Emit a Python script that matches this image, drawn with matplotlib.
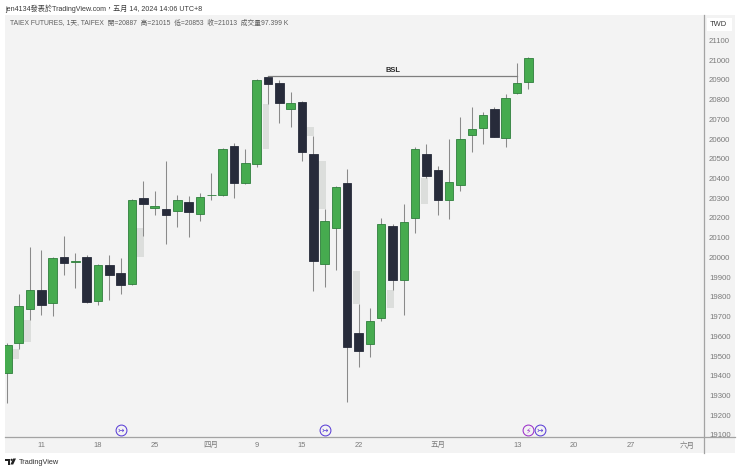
import matplotlib
matplotlib.use("Agg")
import matplotlib.pyplot as plt
from matplotlib.patches import Circle, Polygon, Rectangle

plt.rcParams["font.family"] = ["Liberation Sans", "Noto Sans CJK TC", "DejaVu Sans"]

COLORS = {
    "bg": "#F3F3F3",
    "up": "#46AB4F",
    "up_edge": "#2F7F3C",
    "down": "#272B3A",
    "wick": "#8A8A8A",
    "ghost": "#DCDEDC",
    "line": "#A3A3A3",
    "text": "#7A7A7A",
    "dark_text": "#3A3A3A",
}

# daily candles, oldest first
opens = [19416, 19566, 19739, 19835, 19768, 20001, 19978, 20004, 19779, 19960, 19920, 19865,
         20303, 20249, 20247, 20234, 20283, 20222, 20315, 20318, 20567, 20376, 20475, 20913,
         20886, 20754, 20787, 20526, 19965, 20148, 20379, 19616, 19560, 19692, 20160, 19884,
         20202, 20526, 20443, 20291, 20366, 20622, 20656, 20751, 20607, 20834, 20887]
highs = [19568, 19813, 20055, 20038, 20003, 20109, 20021, 20012, 19968, 20011, 19999, 20296,
         20388, 20335, 20488, 20315, 20312, 20325, 20430, 20555, 20582, 20550, 20905, 20920,
         20900, 20837, 20795, 20616, 20244, 20362, 20449, 19766, 19744, 20202, 20168, 20270,
         20560, 20577, 20465, 20599, 20714, 20761, 20736, 20761, 20827, 20984, 21015]
lows = [19264, 19534, 19683, 19710, 19703, 19913, 19847, 19771, 19757, 19786, 19816, 19860,
        20109, 20214, 20068, 20156, 20104, 20185, 20290, 20313, 20303, 20374, 20459, 20778,
        20680, 20660, 20488, 19828, 19852, 19935, 19269, 19446, 19494, 19679, 19835, 19710,
        20123, 20403, 20217, 20195, 20335, 20536, 20577, 20609, 20562, 20827, 20853]
closes = [19555, 19754, 19837, 19761, 19999, 19973, 19982, 19776, 19963, 19913, 19862, 20291,
          20271, 20259, 20215, 20290, 20231, 20308, 20318, 20550, 20378, 20477, 20901, 20879,
          20782, 20783, 20536, 19982, 20185, 20357, 19548, 19524, 19676, 20170, 19886, 20178,
          20551, 20415, 20291, 20381, 20601, 20650, 20724, 20612, 20808, 20883, 21013]

# pale boxes that sit just right of some candles
ghost_lefts = [0.44, 1.47, 11.42, 22.54, 26.42, 27.45, 30.48, 33.54, 36.48]
ghost_rights = [1.03, 2.06, 12.06, 23.07, 27.07, 28.10, 31.13, 34.13, 37.13]
ghost_tops = [19534, 19683, 20148, 20778, 20660, 20488, 19931, 19835, 20403]
ghost_bottoms = [19484, 19570, 20002, 20550, 20616, 20244, 19766, 19745, 20271]

bsl_start, bsl_end, bsl_price = 23, 45, 20920

price_ticks = list(range(19100, 21200, 100))
date_ticks = [3, 8, 13, 18, 22, 26, 31, 38, 45, 50, 55, 60]
date_labels = ["11", "18", "25", "四月", "9", "15", "22", "五月", "13", "20", "27", "六月"]

# event icons along the bottom of the pane
event_bars = [10, 28, 46, 47]
event_glyphs = ["↣", "↣", "⚡", "↣"]
event_colors = ["#5B3FD6", "#5B3FD6", "#9C2FC9", "#5B3FD6"]

W, H = 740, 472
PANE = (5.3, 15.0, 704.3, 437.3)  # left, top, right, bottom in pixels

fig = plt.figure(figsize=(W / 100, H / 100), dpi=100, facecolor="white")

# chrome layer, in pixels
chrome = fig.add_axes([0, 0, 1, 1], zorder=0)
chrome.set_xlim(0, W)
chrome.set_ylim(H, 0)
chrome.axis("off")
chrome.add_patch(Rectangle((5.3, 15), 730, 437.5, color=COLORS["bg"], lw=0))

left, top, right, bottom = PANE
ax = fig.add_axes([left / W, 1 - bottom / H, (right - left) / W, (bottom - top) / H], zorder=1)
ax.set_facecolor("none")
ax.set_xlim(-0.176, 61.52)
ax.set_ylim(19088, 21229)
for side in ["top", "left", "right", "bottom"]:
    ax.spines[side].set_visible(False)

for gl, gr, gt, gb in zip(ghost_lefts, ghost_rights, ghost_tops, ghost_bottoms):
    ax.add_patch(Rectangle((gl, gb), gr - gl, gt - gb, color=COLORS["ghost"], lw=0, zorder=1))

bars = list(range(len(opens)))
ax.vlines(bars, lows, highs, color=COLORS["wick"], lw=0.75, zorder=2)
for i, o, c in zip(bars, opens, closes):
    is_up = c >= o
    ax.bar(
        i, abs(c - o), bottom=min(o, c), width=0.76,
        color=COLORS["up"] if is_up else COLORS["down"],
        edgecolor=COLORS["up_edge"] if is_up else COLORS["down"],
        linewidth=0.6, zorder=3,
    )

ax.plot([bsl_start, bsl_end], [bsl_price, bsl_price], color="#7E7E7E", lw=0.9, zorder=4)
ax.text((bsl_start + bsl_end) / 2, bsl_price + 12, "BSL", ha="center", va="bottom",
        fontsize=5.4, fontweight="bold", color="#2A2A2A", zorder=4)

# icons are placed from the axis bottom
trans = ax.get_xaxis_transform()
for b, glyph, col in zip(event_bars, event_glyphs, event_colors):
    ax.plot([b], [0.0165], marker="o", ms=7.8, mfc="none", mec=col, mew=0.75,
            transform=trans, clip_on=False, zorder=5)
    ax.text(b, 0.0165, glyph, transform=trans, ha="center", va="center", fontsize=5.5,
            color=col, family=["DejaVu Sans"], zorder=5)

ax.yaxis.tick_right()
ax.set_yticks(price_ticks)
ax.set_xticks(date_ticks)
ax.set_xticklabels(date_labels)
ax.tick_params(axis="y", length=0, pad=3.4, labelsize=5.6, labelcolor=COLORS["text"])
ax.tick_params(axis="x", length=0, pad=3.6, labelsize=5.4, labelcolor=COLORS["text"])

# separators and captions
chrome.plot([704.3, 704.3], [15, 452.5], color=COLORS["line"], lw=0.9)
chrome.plot([5.3, 735], [437.3, 437.3], color=COLORS["line"], lw=0.9)
chrome.add_patch(Rectangle((707, 18), 25, 12.5, color="white", lw=0, zorder=3))
chrome.text(718.7, 24.3, "TWD", ha="center", va="center", fontsize=5.4,
            color=COLORS["dark_text"], zorder=4)
chrome.text(5, 9, "jen4134發表於TradingView.com，五月 14, 2024 14:06 UTC+8", va="center",
            fontsize=5.1, color=COLORS["dark_text"])
chrome.text(10, 23.6, "TAIEX FUTURES, 1天, TAIFEX  開=20887  高=21015  低=20853  收=21013  成交量97.399 K",
            va="center", fontsize=4.85, color="#5E5E5E")

# TradingView logo
logo = "#222222"
chrome.add_patch(Polygon([(5.3, 458.5), (10, 458.5), (10, 464.5), (7.6, 464.5), (7.6, 460.6), (5.3, 460.6)],
                         color=logo, lw=0))
chrome.add_patch(Circle((11.6, 459.8), 1.1, color=logo, lw=0))
chrome.add_patch(Polygon([(13.2, 458.5), (16, 458.5), (13.2, 464.5), (10.4, 464.5)], color=logo, lw=0))
chrome.text(18.5, 462, "TradingView", va="center", fontsize=5.3, color="#333333")

fig.savefig("out.png", dpi=100)
